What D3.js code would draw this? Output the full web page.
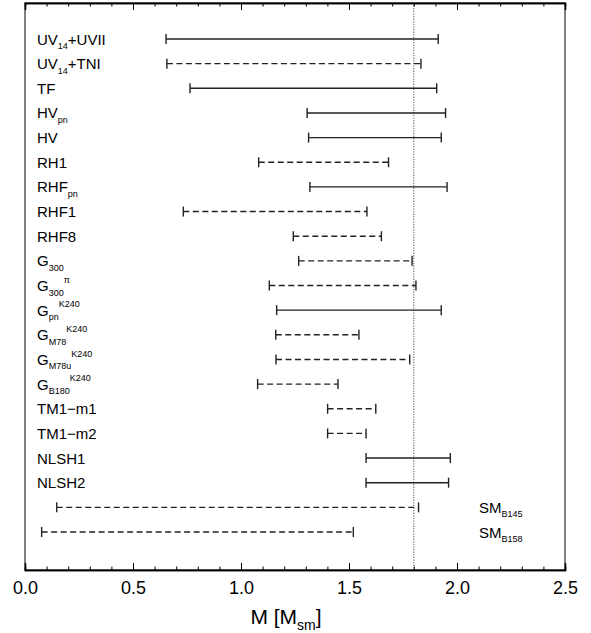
<!DOCTYPE html>
<html>
<head>
<meta charset="utf-8">
<script src="https://cdn.jsdelivr.net/npm/d3@7"></script>
<style>
html,body{margin:0;padding:0;background:#fff;}
svg{display:block;font-family:"Liberation Sans",Arial,Helvetica,sans-serif;}
</style>
</head>
<body>
<svg id="chart" width="591" height="633"></svg>
<script>
// ---- data ----
const models = [
  "UV_{14}+UVII", "UV_{14}+TNI", "TF", "HV_{pn}", "HV", "RH1", "RHF_{pn}", "RHF1", "RHF8",
  "G_{300}", "G_{300}^{π}", "G_{pn}^{K240}", "G_{M78}^{K240}", "G_{M78u}^{K240}", "G_{B180}^{K240}",
  "TM1−m1", "TM1−m2", "NLSH1", "NLSH2", "SM_{B145}", "SM_{B158}"
];
const massLow  = [0.653, 0.657, 0.764, 1.306, 1.313, 1.082, 1.319, 0.733, 1.242,
                  1.267, 1.131, 1.165, 1.161, 1.162, 1.077,
                  1.401, 1.401, 1.579, 1.579, 0.147, 0.077];
const massHigh = [1.913, 1.833, 1.906, 1.947, 1.927, 1.683, 1.954, 1.583, 1.650,
                  1.792, 1.810, 1.927, 1.546, 1.781, 1.449,
                  1.624, 1.579, 1.969, 1.961, 1.822, 1.520];
const dashed   = [false, true, false, false, false, true, false, true, true,
                  true, true, false, true, true, true,
                  true, true, false, false, true, true];
const labelRight = [false, false, false, false, false, false, false, false, false,
                    false, false, false, false, false, false,
                    false, false, false, false, true, true];
const xMajorTicks = [0.0, 0.5, 1.0, 1.5, 2.0, 2.5];
const xMinorTicks = d3.range(0, 25).map(i => i / 10).filter(v => Math.abs(v * 2 - Math.round(v * 2)) > 1e-6);
const refMass = 1.8;
const xTitle = "M [M_{sm}]";

// ---- layout ----
const L = 25, R = 565, T = 3, B = 570;
const svg = d3.select("#chart");
const x = d3.scaleLinear().domain([0, 2.5]).range([L, R]);
const y = d3.scalePoint().domain(d3.range(models.length)).range([39, 532]);

function addRich(textSel, str, base, small) {
  const parts = str.match(/(_\{[^}]*\}|\^\{[^}]*\}|[^_^]+)/g);
  let level = 0; // 0 normal, 1 sub, -1 sup
  parts.forEach(p => {
    let target, content, size;
    if (p.startsWith("_{")) { target = 1; content = p.slice(2, -1); size = small; }
    else if (p.startsWith("^{")) { target = -1; content = p.slice(2, -1); size = small; }
    else { target = 0; content = p; size = base; }
    const off = {0: 0, 1: base * 0.3, "-1": -base * 0.55};
    const dy = off[target] - off[level];
    textSel.append("tspan").attr("dy", dy).attr("font-size", size).text(content);
    level = target;
  });
}

// frame
svg.append("rect").attr("x", L).attr("y", T).attr("width", R - L).attr("height", B - T)
  .attr("fill", "none").attr("stroke", "#555").attr("stroke-width", 1.5);

// reference dotted line
svg.append("line").attr("x1", x(refMass)).attr("x2", x(refMass)).attr("y1", T).attr("y2", B)
  .attr("stroke", "#777").attr("stroke-width", 1.2).attr("stroke-dasharray", "1.3,1.3");

// axes
const gB = svg.append("g").attr("transform", `translate(0,${B})`)
  .call(d3.axisBottom(x).tickValues(xMajorTicks).tickSize(-7).tickPadding(11).tickFormat(d3.format(".1f")));
const gBm = svg.append("g").attr("transform", `translate(0,${B})`)
  .call(d3.axisBottom(x).tickValues(xMinorTicks).tickSize(-3.5).tickFormat(""));
const gT = svg.append("g").attr("transform", `translate(0,${T})`)
  .call(d3.axisTop(x).tickValues(xMajorTicks).tickSize(-7).tickFormat(""));
const gTm = svg.append("g").attr("transform", `translate(0,${T})`)
  .call(d3.axisTop(x).tickValues(xMinorTicks).tickSize(-3.5).tickFormat(""));
[gB, gBm, gT, gTm].forEach(g => {
  g.select(".domain").attr("stroke", "#000").attr("stroke-width", 1.5);
  g.selectAll(".tick line").attr("stroke", "#000").attr("stroke-width", 1);
});
gB.selectAll(".tick text").attr("font-size", 18).attr("fill", "#000")
  .attr("font-family", "Liberation Sans, Arial, sans-serif");

// axis title
const tt = svg.append("text").attr("x", 286).attr("y", 624).attr("text-anchor", "middle")
  .attr("fill", "#000").attr("font-size", 21);
addRich(tt, xTitle, 21, 14);

// error bars
const rows = svg.append("g");
models.forEach((m, i) => {
  const yy = y(i);
  const g = rows.append("g");
  g.append("line").attr("x1", x(massLow[i])).attr("x2", x(massHigh[i]))
    .attr("y1", yy).attr("y2", yy)
    .attr("stroke", "#222").attr("stroke-width", 1.4)
    .attr("stroke-dasharray", dashed[i] ? "6,3.5" : null);
  [massLow[i], massHigh[i]].forEach(v => {
    g.append("line").attr("x1", x(v)).attr("x2", x(v))
      .attr("y1", yy - 5).attr("y2", yy + 5)
      .attr("stroke", "#222").attr("stroke-width", 1.4);
  });
  const t = svg.append("text")
    .attr("x", labelRight[i] ? 479 : 37)
    .attr("y", yy + 5.5)
    .attr("fill", "#000").attr("font-size", 15);
  addRich(t, m, 15, 9);
});
</script>
</body>
</html>
